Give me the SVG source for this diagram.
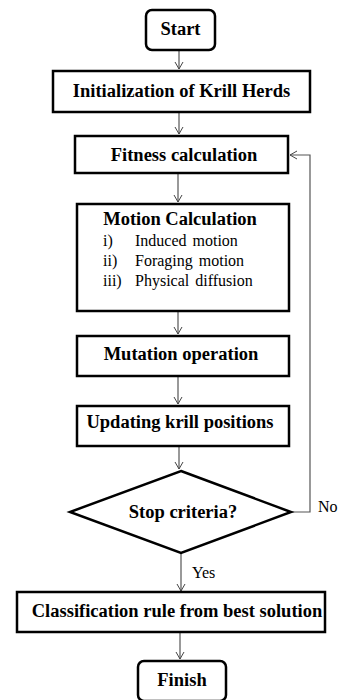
<svg xmlns="http://www.w3.org/2000/svg" width="338" height="700" viewBox="0 0 338 700">
<defs>
<marker id="ah" markerWidth="10" markerHeight="10" refX="9" refY="5" orient="auto" markerUnits="userSpaceOnUse">
<path d="M2,1 L9,5 L2,9" fill="none" stroke="#444" stroke-width="1"/>
</marker>
<style>
.box{fill:#fff;stroke:#000;stroke-width:2.5}
.t{font-family:"Liberation Serif","Times New Roman",serif;font-weight:bold;font-size:18.5px;fill:#000;text-anchor:middle}
.r{font-family:"Liberation Serif","Times New Roman",serif;font-size:16px;fill:#000;word-spacing:2px}
.c{fill:none;stroke:#555;stroke-width:1.2}
</style>
</defs>
<rect width="338" height="700" fill="#fff"/>
<g id="connectors">
<line class="c" x1="179" y1="50" x2="179" y2="69" marker-end="url(#ah)"/>
<line class="c" x1="179" y1="112" x2="179" y2="134" marker-end="url(#ah)"/>
<line class="c" x1="178" y1="173" x2="178" y2="202" marker-end="url(#ah)"/>
<line class="c" x1="178" y1="311" x2="178" y2="334" marker-end="url(#ah)"/>
<line class="c" x1="178" y1="376" x2="178" y2="404" marker-end="url(#ah)"/>
<line class="c" x1="179" y1="446" x2="179" y2="469" marker-end="url(#ah)"/>
<line class="c" x1="181" y1="553" x2="181" y2="591" marker-end="url(#ah)"/>
<line class="c" x1="180" y1="632" x2="180" y2="659" marker-end="url(#ah)"/>
<polyline class="c" points="291,512 310,512 310,155 290,155" marker-end="url(#ah)"/>
<text class="r" x="192" y="578">Yes</text>
<text class="r" x="318" y="512">No</text>
</g>
<g id="start">
<rect class="box" x="146" y="10" width="69" height="40" rx="6"/>
<text class="t" x="180.5" y="35">Start</text>
</g>
<g id="init">
<rect class="box" x="53" y="71" width="257" height="41"/>
<text class="t" x="181.5" y="97">Initialization of Krill Herds</text>
</g>
<g id="fitness">
<rect class="box" x="75" y="136" width="213" height="37"/>
<text class="t" x="184" y="161">Fitness calculation</text>
</g>
<g id="motion">
<rect class="box" x="77" y="204" width="212" height="107"/>
<text class="t" x="180" y="225">Motion Calculation</text>
<text class="r" x="103" y="246">i)</text><text class="r" x="135" y="246">Induced motion</text>
<text class="r" x="103" y="266">ii)</text><text class="r" x="135" y="266">Foraging motion</text>
<text class="r" x="103" y="286">iii)</text><text class="r" x="135" y="286">Physical diffusion</text>
</g>
<g id="mutation">
<rect class="box" x="77" y="336" width="212" height="40"/>
<text class="t" x="181" y="360">Mutation operation</text>
</g>
<g id="updating">
<rect class="box" x="77" y="406" width="212" height="40"/>
<text class="t" x="180" y="428">Updating krill positions</text>
</g>
<g id="stop">
<polygon class="box" points="181,471 291,512 181,553 70,512"/>
<text class="t" x="183" y="518">Stop criteria?</text>
</g>
<g id="classification">
<rect class="box" x="17" y="592" width="308" height="40"/>
<text class="t" x="177" y="617">Classification rule from best solution</text>
</g>
<g id="finish">
<rect class="box" x="138" y="661" width="88" height="40" rx="6"/>
<text class="t" x="182" y="686">Finish</text>
</g>
</svg>
